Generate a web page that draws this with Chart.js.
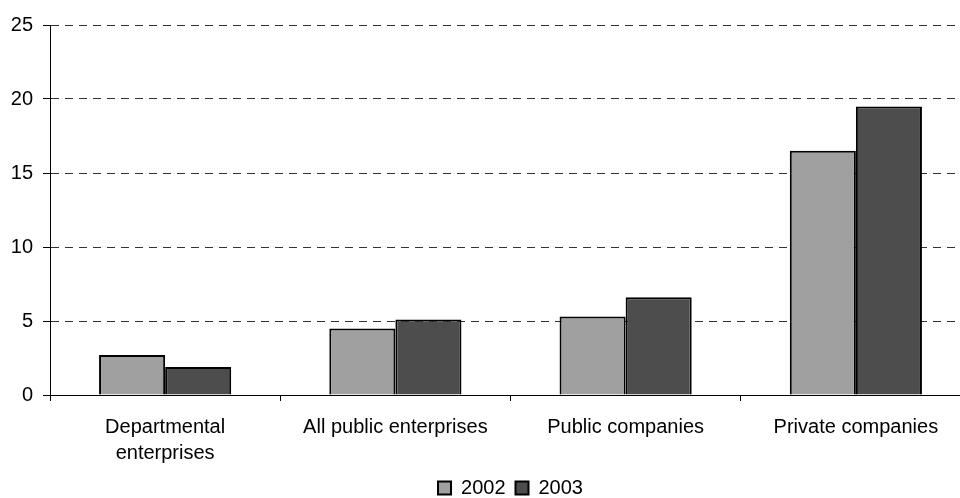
<!DOCTYPE html>
<html>
<head>
<meta charset="utf-8">
<script src="https://cdn.jsdelivr.net/npm/chart.js@4/dist/chart.umd.min.js"></script>
<style>
  html, body { margin: 0; padding: 0; background: #fff; overflow: hidden; }
  canvas { display: block; }
</style>
</head>
<body>
<canvas id="myChart" width="980" height="508"></canvas>
<script>
// categories and yearly values
let categories = [['Departmental', 'enterprises'], 'All public enterprises', 'Public companies', 'Private companies'];
let years = ['2002', '2003'];
let values2002 = [2.7, 4.5, 5.3, 16.5];
let values2003 = [1.9, 5.1, 6.6, 19.5];
let yTicks = [0, 5, 10, 15, 20, 25];

let fontFamily = '"Liberation Sans", Arial, sans-serif';

let ctx = document.getElementById('myChart');
let myChart = new Chart(ctx, {
    type: 'bar',
    data: {
        labels: categories,
        datasets: [{
            label: years[0],
            data: values2002,
            backgroundColor: '#a0a0a0',
            borderColor: '#000',
            borderWidth: 2,
            inflateAmount: 0
        }, {
            label: years[1],
            data: values2003,
            backgroundColor: '#4d4d4d',
            borderColor: '#000',
            borderWidth: 2,
            inflateAmount: 0
        }]
    },
    options: {
        responsive: false,
        animation: false,
        devicePixelRatio: 1,
        datasets: {
            bar: { categoryPercentage: 0.574, barPercentage: 1.0 }
        },
        layout: {
            padding: { left: 10, right: 9, top: 25, bottom: 0 }
        },
        plugins: {
            tooltip: { enabled: false },
            legend: {
                position: 'bottom',
                fullSize: false,
                labels: {
                    boxWidth: 13,
                    boxHeight: 13,
                    padding: 10,
                    color: '#000',
                    font: { family: fontFamily, size: 20 }
                }
            }
        },
        scales: {
            x: {
                grid: {
                    display: true,
                    drawOnChartArea: false,
                    tickLength: 6,
                    tickColor: '#000'
                },
                border: { display: true, color: '#000', width: 1 },
                ticks: {
                    color: '#000',
                    padding: 13,
                    maxRotation: 0,
                    autoSkip: false,
                    font: { family: fontFamily, size: 20, lineHeight: 1.3 }
                },
                afterFit: function (scale) { scale.height -= 11; }
            },
            y: {
                min: yTicks[0],
                max: yTicks[yTicks.length - 1],
                afterBuildTicks: function (scale) {
                    scale.ticks = yTicks.map(v => ({ value: v }));
                },
                grid: {
                    color: '#333',
                    lineWidth: 1,
                    tickLength: 7,
                    tickColor: '#000'
                },
                border: { display: true, color: '#000', width: 1, dash: [8, 6] },
                ticks: {
                    color: '#000',
                    padding: 10,
                    font: { family: fontFamily, size: 20, lineHeight: 1.2 }
                },
                afterFit: function (scale) { scale.width = 40; }
            }
        }
    }
});
</script>
</body>
</html>
